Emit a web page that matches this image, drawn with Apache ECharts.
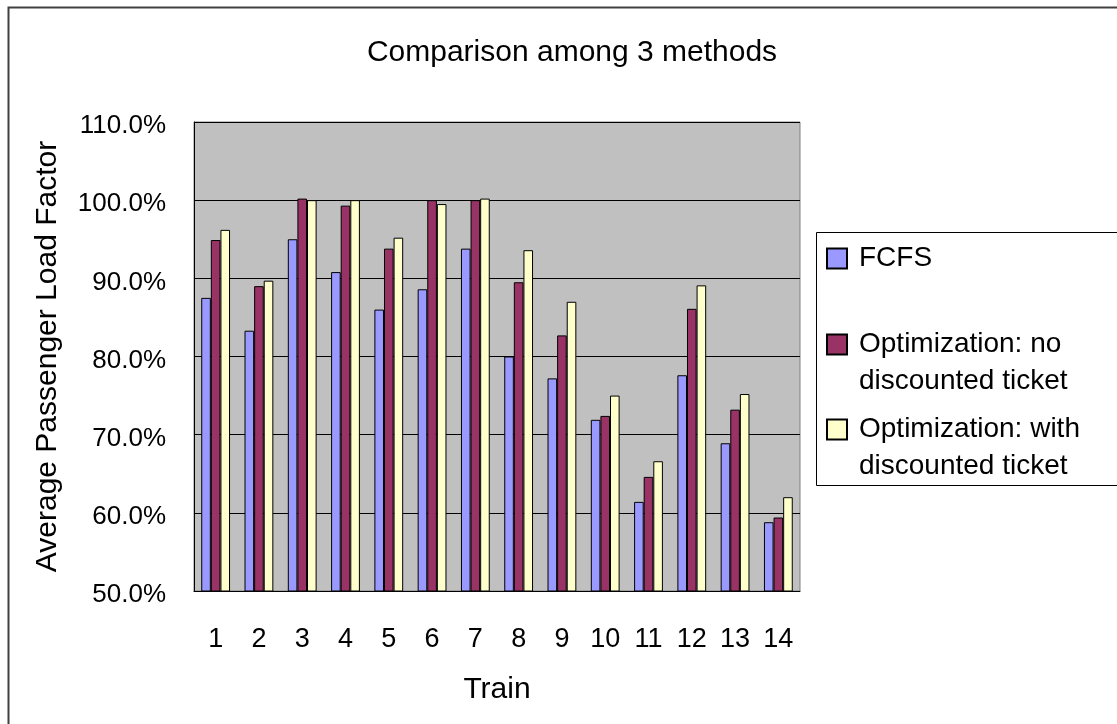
<!DOCTYPE html>
<html>
<head>
<meta charset="utf-8">
<script src="https://cdn.jsdelivr.net/npm/echarts@6/dist/echarts.min.js"></script>
<style>
  html, body { margin: 0; padding: 0; background: #fff; }
  #chart { width: 1117px; height: 724px; }
</style>
</head>
<body>
<div id="chart"></div>
<script>
// 数据
var trains = ["1", "2", "3", "4", "5", "6", "7", "8", "9", "10", "11", "12", "13", "14"];
var fcfs = [87.5, 83.3, 95.0, 90.8, 86.0, 88.6, 93.8, 80.0, 77.2, 71.9, 61.4, 77.6, 68.9, 58.8];
var optNoDiscount = [94.9, 89.0, 100.2, 99.3, 93.8, 100.0, 100.0, 89.5, 82.7, 72.4, 64.6, 86.1, 73.2, 59.4];
var optWithDiscount = [96.2, 89.7, 100.0, 100.0, 95.2, 99.5, 100.2, 93.6, 87.0, 75.0, 66.6, 89.1, 75.2, 62.0];
var yTicks = { min: 50, max: 110, step: 10 };

var font = "Liberation Sans";
var names = ["FCFS", "Optimization: no\ndiscounted ticket", "Optimization: with\ndiscounted ticket"];
var colors = ["#9999FF", "#993366", "#FFFFCC"];

// 图例方块放在第一行文字旁边（路径里多一个空的 moveTo 撑开高度）
function legendAt(name, top, twoLines) {
  var h = twoLines ? 57 : 20;
  return {
    data: [name],
    left: 826,
    top: top,
    orient: "vertical",
    icon: "path://M0,0L20,0L20,20L0,20Z M27," + h,
    itemWidth: 27,
    itemHeight: h,
    itemGap: 0,
    padding: 0,
    textStyle: { fontFamily: font, fontSize: 28, color: "#000", lineHeight: 37 },
  };
}

var myChart = echarts.init(document.getElementById("chart"));
var option = {
  animation: false,
  color: colors,
  textStyle: { fontFamily: font },
  title: {
    text: "Comparison among 3 methods",
    left: 567,
    textAlign: "center",
    top: 33,
    textStyle: { fontFamily: font, fontSize: 30, fontWeight: "normal", color: "#000" },
  },
  legend: [
    legendAt(names[0], 240, false),
    legendAt(names[1], 326, true),
    legendAt(names[2], 411, true),
  ],
  graphic: [
    {
      type: "rect",
      left: 6, top: 5,
      shape: { width: 1130, height: 740 },
      style: { fill: "none", stroke: "#404040", lineWidth: 2 },
      silent: true,
    },
    {
      type: "rect",
      left: 814, top: 230,
      shape: { width: 320, height: 253 },
      style: { fill: "none", stroke: "#000", lineWidth: 1 },
      silent: true,
      z: -1,
    },
  ],
  grid: {
    left: 194,
    top: 122,
    right: 317,
    bottom: 133,
    show: true,
    backgroundColor: "#C0C0C0",
    borderColor: "#808080",
    borderWidth: 1,
  },
  xAxis: {
    type: "category",
    data: trains,
    name: "Train",
    nameLocation: "middle",
    nameGap: 84,
    nameTextStyle: { fontFamily: font, fontSize: 30, color: "#000" },
    axisLine: { lineStyle: { color: "#000", width: 1 } },
    axisTick: { inside: true, length: 6, lineStyle: { color: "#000" } },
    axisLabel: { fontFamily: font, fontSize: 27, color: "#000", margin: 35 },
  },
  yAxis: {
    type: "value",
    min: yTicks.min,
    max: yTicks.max,
    interval: yTicks.step,
    name: "Average Passenger Load Factor",
    nameLocation: "middle",
    nameGap: 131,
    nameTextStyle: { fontFamily: font, fontSize: 30, color: "#000" },
    axisLine: { show: true, lineStyle: { color: "#000", width: 1 } },
    axisTick: { show: true, inside: true, length: 8, lineStyle: { color: "#000" } },
    axisLabel: {
      fontFamily: font,
      fontSize: 26,
      color: "#000",
      margin: 28,
      formatter: function (v) { return "{a|" + v.toFixed(1) + "%}"; },
      rich: {
        a: { fontFamily: font, fontSize: 26, color: "#000", padding: [8, 0, 0, 0] },
      },
    },
    splitLine: { show: true, lineStyle: { color: "#000", width: 1 } },
  },
  series: [
    { name: names[0], type: "bar", data: fcfs },
    { name: names[1], type: "bar", data: optNoDiscount },
    { name: names[2], type: "bar", data: optWithDiscount },
  ].map(function (s) {
    s.barWidth = 9.6;
    s.barGap = "0%";
    s.itemStyle = { borderColor: "#000", borderWidth: 1 };
    return s;
  }),
};
myChart.setOption(option);
</script>
</body>
</html>
